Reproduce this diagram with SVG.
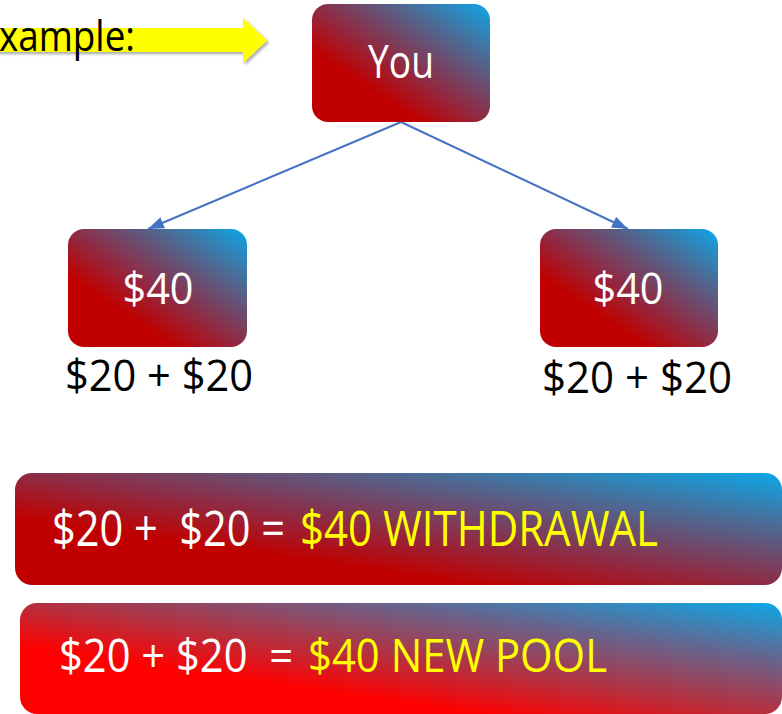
<svg xmlns="http://www.w3.org/2000/svg" width="782" height="714" viewBox="0 0 782 714">
<style>
.t{font-family:"Open Sans","Noto Sans","Liberation Sans",sans-serif;white-space:pre}
.w{fill:#ffffff}
.k{fill:#000000}
.y{fill:#ffff00}
.conn{stroke:#4472C4;stroke-width:2;fill:none}
</style>
<defs>
<linearGradient id="gNode" x1="0" y1="1" x2="1" y2="0">
<stop offset="0" stop-color="#C00000"/>
<stop offset="0.3" stop-color="#C00000"/>
<stop offset="0.5" stop-color="#8E2C45"/>
<stop offset="0.75" stop-color="#4E6892"/>
<stop offset="1" stop-color="#0BA8E8"/>
</linearGradient>
<linearGradient id="gBar2" x1="0" y1="1" x2="1" y2="0">
<stop offset="0" stop-color="#FF0000"/>
<stop offset="0.3" stop-color="#FF0000"/>
<stop offset="0.5" stop-color="#B5303F"/>
<stop offset="0.75" stop-color="#646690"/>
<stop offset="1" stop-color="#0BA8E8"/>
</linearGradient>
<marker id="ah" viewBox="0 0 16 12" refX="16" refY="6" markerWidth="16" markerHeight="12" markerUnits="userSpaceOnUse" orient="auto">
<path d="M0,0 L16,6 L0,12 Z" fill="#4472C4"/>
</marker>
<filter id="sh" x="-10%" y="-30%" width="130%" height="180%">
<feDropShadow dx="2" dy="2" stdDeviation="1.5" flood-color="#000" flood-opacity="0.35"/>
</filter>
</defs>

<g id="example-arrow">
<path d="M-5,28 L243,28 L243,18 L267,40.5 L243,63 L243,52 L-5,52 Z" fill="#FFFF00" filter="url(#sh)"/>
<text class="t k" x="-1" y="51" font-size="42" textLength="136" lengthAdjust="spacingAndGlyphs">xample:</text>
</g>

<g id="connectors">
<line class="conn" x1="401" y1="122" x2="148" y2="229" marker-end="url(#ah)"/>
<line class="conn" x1="401" y1="122" x2="628" y2="229" marker-end="url(#ah)"/>
</g>

<g id="node-you">
<rect x="312" y="4" width="178" height="118" rx="16" fill="url(#gNode)"/>
<text class="t w" x="401" y="78" font-size="46" text-anchor="middle" textLength="66" lengthAdjust="spacingAndGlyphs">You</text>
</g>

<g id="node-left">
<rect x="68" y="229" width="179" height="118" rx="16" fill="url(#gNode)"/>
<text class="t w" x="158" y="304" font-size="43" text-anchor="middle" textLength="71" lengthAdjust="spacingAndGlyphs">$40</text>
<text class="t k" x="65" y="391" font-size="43" textLength="188" lengthAdjust="spacingAndGlyphs">$20 + $20</text>
</g>

<g id="node-right">
<rect x="540" y="229" width="178" height="118" rx="16" fill="url(#gNode)"/>
<text class="t w" x="628" y="304" font-size="43" text-anchor="middle" textLength="71" lengthAdjust="spacingAndGlyphs">$40</text>
<text class="t k" x="542" y="393" font-size="43" textLength="190" lengthAdjust="spacingAndGlyphs">$20 + $20</text>
</g>

<g id="bar-withdrawal">
<rect x="15" y="473" width="767" height="112" rx="17" fill="url(#gNode)"/>
<text class="t w" x="52" y="546" font-size="49" textLength="233" lengthAdjust="spacingAndGlyphs">$20 +  $20 =</text>
<text class="t y" x="300" y="546" font-size="49" textLength="358" lengthAdjust="spacingAndGlyphs">$40 WITHDRAWAL</text>
</g>

<g id="bar-newpool">
<rect x="20" y="603" width="762" height="111" rx="17" fill="url(#gBar2)"/>
<text class="t w" x="59" y="672" font-size="45" textLength="234" lengthAdjust="spacingAndGlyphs">$20 + $20  =</text>
<text class="t y" x="308" y="672" font-size="45" textLength="299" lengthAdjust="spacingAndGlyphs">$40 NEW POOL</text>
</g>
</svg>
